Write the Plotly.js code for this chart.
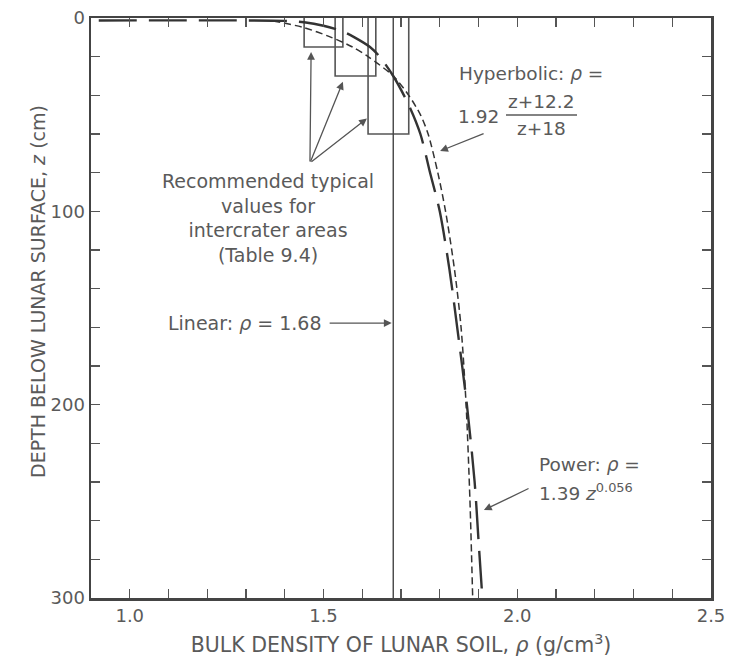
<!DOCTYPE html>
<html>
<head>
<meta charset="utf-8">
<script src="https://cdn.plot.ly/plotly-3.0.1.min.js"></script>
<style>html,body{margin:0;padding:0;background:#fff;}#chart{width:736px;height:659px;}</style>
</head>
<body>
<div id="chart"></div>
<script>
// ---- data ----
const densityTicks = [1.0, 1.5, 2.0, 2.5];
const depthTicks = [0, 100, 200, 300];

// Power law curve: rho = 1.39 z^0.056 (long dash)
const powerDepth = [1.3, 1.5, 2.2, 4, 7, 10, 15, 20, 30, 45, 60, 80, 100, 130, 160, 200, 240, 270, 300];
const powerRho   = [0.92, 1.40, 1.45, 1.50, 1.55, 1.58, 1.62, 1.645, 1.68, 1.72, 1.75, 1.775, 1.80, 1.825, 1.845, 1.87, 1.89, 1.90, 1.91];

// Hyperbolic curve: rho = 1.92 (z+12.2)/(z+18) (short dash)
const hyperDepth = [1.5, 5, 10, 15, 20, 30, 40, 50, 60, 80, 100, 130, 160, 200, 250, 300];
const hyperRho   = [1.37, 1.45, 1.52, 1.575, 1.615, 1.68, 1.72, 1.75, 1.77, 1.795, 1.815, 1.838, 1.855, 1.868, 1.878, 1.885];

// Linear: rho = 1.68
const linearRho = 1.68;
const linearDepth = [0, 300];

// Recommended typical values for intercrater areas (Table 9.4)
const boxDepthTop    = [0, 0, 0];
const boxDepthBottom = [15, 30, 60];
const boxRhoLow      = [1.45, 1.53, 1.615];
const boxRhoHigh     = [1.55, 1.635, 1.72];

// ---- styling / layout ----
const FONT = 'DejaVu Sans, Liberation Sans, sans-serif';
const TXT = '#5a5a5a';
const PX = p => (p - 91) / 620;
const PY = p => (598 - p) / 580;

const traces = [];
for (let i = 0; i < boxDepthBottom.length; i++) {
  traces.push({
    type: 'scatter', mode: 'lines', showlegend: false, hoverinfo: 'skip',
    x: [boxRhoLow[i], boxRhoLow[i], boxRhoHigh[i], boxRhoHigh[i]],
    y: [boxDepthTop[i], boxDepthBottom[i], boxDepthBottom[i], boxDepthTop[i]],
    line: {color: '#555', width: 1.6}
  });
}
traces.push({
  type: 'scatter', mode: 'lines', showlegend: false,
  x: [linearRho, linearRho], y: linearDepth,
  line: {color: '#444', width: 1.4}
});
traces.push({
  type: 'scatter', mode: 'lines', showlegend: false,
  x: hyperRho, y: hyperDepth,
  line: {color: '#333', width: 1.5, dash: '7px,4px', shape: 'spline', smoothing: 0.8}
});
traces.push({
  type: 'scatter', mode: 'lines', showlegend: false,
  x: powerRho, y: powerDepth,
  line: {color: '#333', width: 2.4, dash: '38px,12px', shape: 'spline', smoothing: 0.8}
});

function arrow(x, y, ax, ay) {
  return {x: x, y: y, ax: ax, ay: ay, xref: 'x', yref: 'y', axref: 'x', ayref: 'y',
    text: '', showarrow: true, arrowhead: 2, arrowsize: 1.2, arrowwidth: 1.3, arrowcolor: '#555'};
}
function label(text, px, py, xanchor, size) {
  return {text: text, x: PX(px), y: PY(py), xref: 'paper', yref: 'paper',
    xanchor: xanchor || 'center', yanchor: 'middle', showarrow: false,
    font: {family: FONT, size: size || 19, color: TXT}};
}

const annotations = [
  label('Recommended typical<br>values for<br>intercrater areas<br>(Table 9.4)', 268, 218),
  arrow(1.468, 17.6, 1.465, 75),
  arrow(1.550, 33, 1.465, 75),
  arrow(1.612, 52, 1.465, 75),
  label('Linear: <i>ρ</i> = 1.68', 324, 323, 'right'),
  arrow(1.676, 157.8, 1.512, 157.8),
  label('Hyperbolic: <i>ρ</i> =', 457, 73, 'left', 18.5),
  label('1.92', 501, 116, 'right', 18.5),
  label('z+12.2', 541, 102, 'center', 18.5),
  label('z+18', 541, 128, 'center', 18.5),
  arrow(1.801, 68.8, 1.917, 59.5),
  label('Power: <i>ρ</i> =', 537, 464, 'left', 18.5),
  label('1.39 <i>z</i><sup>0.056</sup>', 537, 492, 'left', 18.5),
  arrow(1.914, 254.5, 2.033, 243),
  // y-axis title
  {text: 'DEPTH BELOW LUNAR SURFACE, <i>z</i> (cm)', textangle: -90,
   x: PX(38), y: PY(292), xref: 'paper', yref: 'paper', xanchor: 'center', yanchor: 'middle',
   showarrow: false, font: {family: FONT, size: 19, color: TXT}}
];

const axisCommon = {
  showgrid: false, zeroline: false,
  showline: true, linecolor: '#444', linewidth: 2.5, mirror: 'allticks',
  ticks: 'inside', ticklen: 9, tickwidth: 1.4, tickcolor: '#555',
  tickfont: {family: FONT, size: 18, color: TXT}
};

const layout = {
  width: 736, height: 659,
  margin: {l: 91, r: 25, t: 18, b: 61},
  paper_bgcolor: '#fff', plot_bgcolor: '#fff',
  showlegend: false,
  xaxis: Object.assign({}, axisCommon, {
    range: [0.9, 2.5], tickvals: densityTicks, tickformat: '.1f',
    minor: {dtick: 0.1, tick0: 0.9, ticks: 'inside', ticklen: 9, tickwidth: 1.4, tickcolor: '#555'},
    title: {text: 'BULK DENSITY OF LUNAR SOIL, <i>ρ</i> (g/cm<sup>3</sup>)', standoff: 13,
            font: {family: FONT, size: 20.5, color: TXT}}
  }),
  yaxis: Object.assign({}, axisCommon, {
    range: [300, 0], tickvals: depthTicks,
    minor: {dtick: 20, tick0: 0, ticks: 'inside', ticklen: 9, tickwidth: 1.4, tickcolor: '#555'}
  }),
  shapes: [
    {type: 'line', xref: 'paper', yref: 'paper', x0: PX(506), x1: PX(577), y0: PY(115), y1: PY(115),
     line: {color: TXT, width: 1.3}}
  ],
  annotations: annotations
};

Plotly.newPlot('chart', traces, layout, {staticPlot: true, displayModeBar: false});
</script>
</body>
</html>
